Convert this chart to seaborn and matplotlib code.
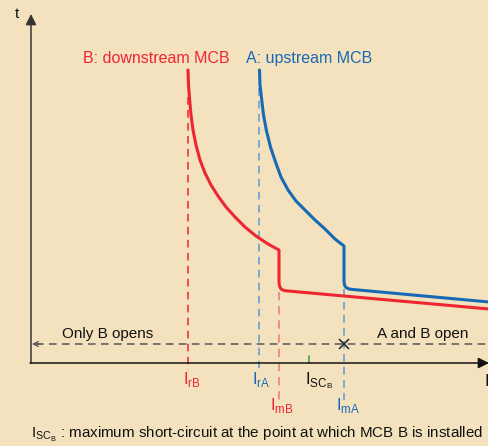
import numpy as np
import pandas as pd
import matplotlib
matplotlib.use("Agg")
import matplotlib.pyplot as plt
import seaborn as sns

# curves (pixel-like units, y grows downward)
red_x = [188, 188.5, 189.5, 191, 193, 196, 200, 205, 211, 218, 226, 235, 245, 256, 268, 279,
         279, 279.5, 281, 284, 288, 489]
red_y = [70, 85, 98, 115, 130, 145, 160, 173, 185, 196, 207, 217, 227, 236, 244, 250,
         282, 286, 289, 290.5, 291, 309]
blue_x = [259.5, 260, 261.5, 263.5, 266.5, 270.5, 275.5, 281, 288, 296, 305, 315, 325, 335, 344,
          344, 344.5, 346, 349, 353, 489]
blue_y = [70, 85, 98, 115, 131, 147, 162, 177, 190, 201, 210, 220, 229, 239, 246,
          281, 285, 287.5, 289, 289.5, 302]

# current thresholds
I_rB, I_rA, I_mB, I_mA, I_scB = 188, 259, 279, 344, 309
t_split = 344

BG = "#F4E2BE"
RED = "#EE2631"
BLUE = "#1769B5"
RED_LIGHT = "#F07F7F"
BLUE_LIGHT = "#5B9BD0"

sns.set_theme(style="white")
plt.rcParams['font.family'] = ['Liberation Sans', 'DejaVu Sans']
plt.rcParams['mathtext.fontset'] = 'custom'
plt.rcParams['mathtext.rm'] = 'Liberation Sans'

fig = plt.figure(figsize=(4.89, 4.46), dpi=100, facecolor=BG)
ax = fig.add_axes([0, 0, 1, 1])
ax.set_facecolor(BG)

# axes with arrows
ax.annotate("", xy=(31, 14), xytext=(31, 363), annotation_clip=False,
            arrowprops=dict(arrowstyle="-|>", color="#333333", lw=1.1,
                            mutation_scale=16, shrinkA=0, shrinkB=0))
ax.annotate("", xy=(489, 363), xytext=(30, 363), annotation_clip=False,
            arrowprops=dict(arrowstyle="-|>", color="#111111", lw=1.1,
                            mutation_scale=16, shrinkA=0, shrinkB=0))

# dashed threshold lines
dash = (0, (5, 3.5))
ax.plot([I_rB, I_rB], [97, 370], color=RED, lw=1.1, ls=dash)
ax.plot([I_rA, I_rA], [88, 368], color=BLUE_LIGHT, lw=1.1, ls=dash)
ax.plot([I_mB, I_mB], [292, 400], color=RED_LIGHT, lw=1.2, ls=dash)
ax.plot([I_mA, I_mA], [289, 400], color=BLUE_LIGHT, lw=1.1, ls=dash)

# horizontal selectivity line
ax.plot([36, 489], [t_split, t_split], color="#555555", lw=1.1, ls=(0, (5, 3.5)))
ax.annotate("", xy=(32, t_split), xytext=(40, t_split), annotation_clip=False,
            arrowprops=dict(arrowstyle="->", color="#555555", lw=0.9,
                            mutation_scale=9, shrinkA=0, shrinkB=0))
ax.plot([I_mA], [t_split], marker="x", color="#222222", ms=7, mew=1.1)

# I_scB tick
ax.plot([I_scB, I_scB], [356, 363], color="#2E9A3E", lw=1.1)

# tripping curves
curves = pd.concat([
    pd.DataFrame({"x": red_x, "y": red_y, "mcb": "B"}),
    pd.DataFrame({"x": blue_x, "y": blue_y, "mcb": "A"}),
])
for name, color in [("B", RED), ("A", BLUE)]:
    sub = curves[curves["mcb"] == name]
    sns.lineplot(data=sub, x="x", y="y", sort=False, estimator=None,
                 color=color, lw=2.2, ax=ax, legend=False)
ax.set_xlim(0, 489)
ax.set_ylim(446, 0)
ax.axis("off")

fs = 11
ax.text(83, 63, "B: downstream MCB", color=RED, fontsize=11.5, ha="left", va="baseline")
ax.text(246, 63, "A: upstream MCB", color=BLUE, fontsize=11.5, ha="left", va="baseline")
ax.text(62, 338, "Only B opens", color="#111111", fontsize=fs, ha="left", va="baseline")
ax.text(377, 338, "A and B open", color="#111111", fontsize=fs, ha="left", va="baseline")
ax.text(15, 18, "t", color="#111111", fontsize=fs, ha="left", va="baseline")
ax.text(484, 386, "I", color="#111111", fontsize=12, ha="left", va="baseline")

lab = 12
ax.text(183, 384, r"I$_{\rm rB}$", color=RED, fontsize=lab, ha="left", va="baseline")
ax.text(252, 384, r"I$_{\rm rA}$", color=BLUE, fontsize=lab, ha="left", va="baseline")
ax.text(305, 384, r"I$_{\rm SC_{B}}$", color="#111111", fontsize=lab, ha="left", va="baseline")
ax.text(270, 410, r"I$_{\rm mB}$", color=RED, fontsize=lab, ha="left", va="baseline")
ax.text(336, 410, r"I$_{\rm mA}$", color=BLUE, fontsize=lab, ha="left", va="baseline")

ax.text(31, 438, r"I$_{\rm SC_{B}}$ : maximum short-circuit at the point at which MCB B is installed",
        color="#111111", fontsize=10.9, ha="left", va="baseline")

fig.savefig("out.png", dpi=100, facecolor=BG)
